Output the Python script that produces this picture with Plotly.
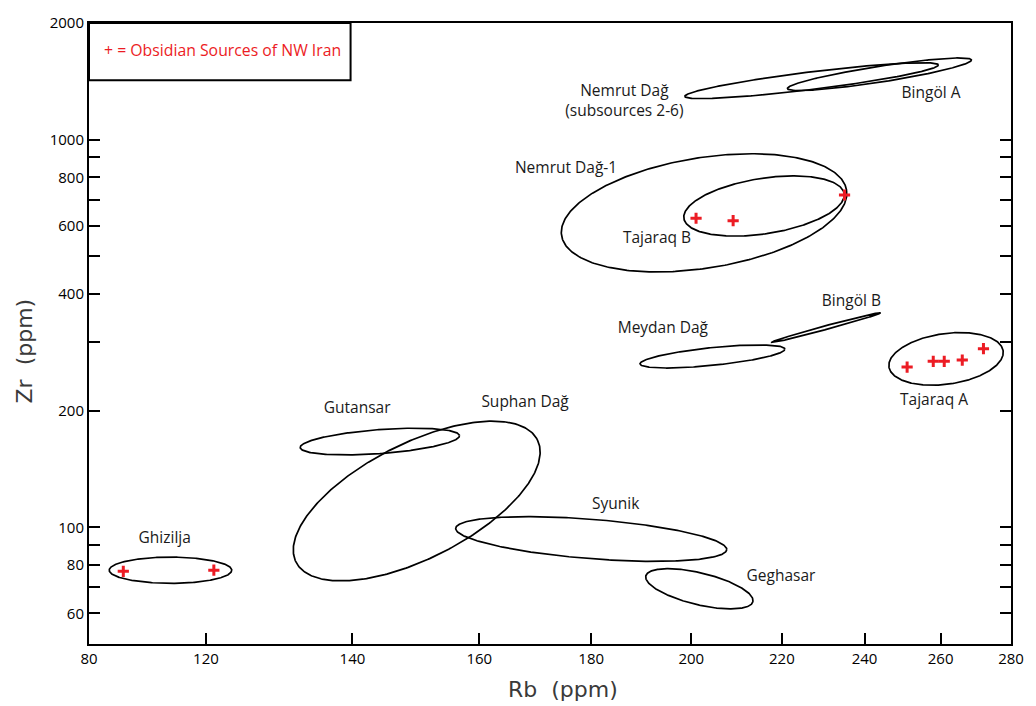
import numpy as np
import plotly.graph_objects as go

# ---------------- data ----------------
SOURCE_NAMES = ["Nemrut Dağ (subsources 2-6)", "Bingöl A", "Nemrut Dağ-1", "Tajaraq B",
                "Meydan Dağ", "Bingöl B", "Tajaraq A", "Gutansar", "Suphan Dağ",
                "Syunik", "Geghasar", "Ghizilja"]
# ellipse centre (Rb, Zr ppm)
CENTER_RB = [227.0, 243.8, 202.7, 215.9, 204.5, 230.5, 261.5, 144.1, 149.8, 180.0, 201.7, 115.6]
CENTER_ZR = [1420, 1475, 647.6, 674.3, 275.9, 327.6, 271.9, 166.4, 116.9, 93.3, 69.4, 77.5]
# end point of the long axis
MAJOR_RB = [259.4, 268.6, 235.5, 234.9, 220.7, 244.1, 277.7, 156.7, 170.1, 207.6, 213.4, 123.3]
MAJOR_ZR = [1559, 1606, 740.9, 725.7, 288.4, 357.7, 285.0, 172.5, 168.0, 87.6, 64.3, 77.5]
# end point of the short axis
MINOR_RB = [227.2, 244.1, 204.5, 216.8, 204.7, 230.6, 262.4, 144.3, 153.9, 179.8, 200.9, 115.6]
MINOR_ZR = [1348, 1408, 468.3, 572.8, 261.8, 324.0, 234.2, 155.0, 86.1, 83.0, 63.3, 71.7]

# obsidian samples of NW Iran (red crosses)
SAMPLE_RB = [201, 209, 235, 251, 258, 261, 266, 272, 110, 121]
SAMPLE_ZR = [627, 618, 720, 259, 268, 268, 270, 289, 77, 77.5]

# ellipse labels
LABEL_TEXT = ["Nemrut Dağ<br>(subsources 2-6)", "Bingöl A", "Nemrut Dağ-1", "Tajaraq B",
              "Bingöl B", "Meydan Dağ", "Tajaraq A", "Gutansar", "Suphan Dağ",
              "Syunik", "Geghasar", "Ghizilja"]
LABEL_RB = [186.4, 257.4, 175.3, 192.9, 236.7, 194.1, 258.2, 140.7, 167.9, 184.7, 219.8, 114.9]
LABEL_ZR = [1251, 1311, 842, 554, 381, 324, 212, 202, 209, 114, 74.6, 93.4]

X_MIN, X_MAX = 106.1, 280
Y_MIN, Y_MAX = 50, 2000
X_TICKS = [X_MIN, 120, 140, 160, 180, 200, 220, 240, 260, 280]
X_TICK_TEXT = ["80", "120", "140", "160", "180", "200", "220", "240", "260", "280"]
Y_TICKS = [60, 70, 80, 90, 100, 200, 300, 400, 500, 600, 700, 800, 900, 1000, 2000]
Y_TICK_TEXT = ["60", "", "80", "", "100", "200", "", "400", "", "600", "", "800", "", "1000", "2000"]

LEGEND_TEXT = "+ = Obsidian Sources of NW Iran"
RED = "#ec1c24"
FONT = "Open Sans, sans-serif"

fig = go.Figure()

t = np.linspace(0, 2 * np.pi, 361)
for i, name in enumerate(SOURCE_NAMES):
    cx, cy = np.log10(CENTER_RB[i]), np.log10(CENTER_ZR[i])
    ux, uy = np.log10(MAJOR_RB[i]) - cx, np.log10(MAJOR_ZR[i]) - cy
    vx, vy = np.log10(MINOR_RB[i]) - cx, np.log10(MINOR_ZR[i]) - cy
    lx = cx + ux * np.cos(t) + vx * np.sin(t)
    ly = cy + uy * np.cos(t) + vy * np.sin(t)
    fig.add_trace(go.Scatter(x=10 ** lx, y=10 ** ly, mode="lines", name=name,
                             line=dict(color="black", width=1.7), hoverinfo="name"))

fig.add_trace(go.Scatter(x=SAMPLE_RB, y=SAMPLE_ZR, mode="markers", name="Obsidian Sources of NW Iran",
                         marker=dict(symbol="cross-thin", size=8,
                                     line=dict(color=RED, width=3), color=RED)))

fig.add_trace(go.Scatter(x=LABEL_RB, y=LABEL_ZR, mode="text", text=LABEL_TEXT,
                         textfont=dict(family=FONT, size=15.5, color="#1a1a1a"),
                         hoverinfo="skip"))

axis_common = dict(type="log", showgrid=False, zeroline=False, showline=True,
                   linecolor="black", linewidth=2, ticks="inside", ticklen=11,
                   tickwidth=2, tickcolor="black", ticklabeloverflow="allow",
                   tickfont=dict(family=FONT, size=15, color="black"))

fig.update_xaxes(range=[np.log10(X_MIN), np.log10(X_MAX)], tickvals=X_TICKS,
                 ticktext=X_TICK_TEXT, mirror=True, **axis_common)
fig.update_yaxes(range=[np.log10(Y_MIN), np.log10(Y_MAX)], tickvals=Y_TICKS,
                 ticktext=Y_TICK_TEXT, mirror="ticks", **axis_common)

fig.add_shape(type="rect", xref="paper", yref="paper", x0=0, x1=0.2837, y0=0.9079, y1=1,
              line=dict(color="black", width=2), fillcolor="white", layer="above")
fig.add_annotation(xref="paper", yref="paper", x=0.0139, y=0.956, xanchor="left",
                   yanchor="middle", text=LEGEND_TEXT, showarrow=False,
                   font=dict(family=FONT, size=15.8, color=RED))

fig.add_annotation(xref="paper", yref="paper", x=0.514, y=-0.0737, text="Rb\u00a0\u00a0(ppm)",
                   showarrow=False, xanchor="center", yanchor="middle",
                   font=dict(family="DejaVu Sans, sans-serif", size=22, color="#3a3a3a"))
fig.add_annotation(xref="paper", yref="paper", x=-0.0696, y=0.4724, text="Zr\u00a0\u00a0(ppm)",
                   showarrow=False, xanchor="center", yanchor="middle", textangle=-90,
                   font=dict(family="DejaVu Sans, sans-serif", size=22, color="#3a3a3a"))

fig.update_layout(width=1036, height=706, showlegend=False,
                  margin=dict(l=89, r=13, t=19.5, b=62),
                  plot_bgcolor="white", paper_bgcolor="white",
                  font=dict(family=FONT))

fig.write_html("out.html", config={"displayModeBar": False},
               post_script="document.body.style.margin='0px';"
                           "document.body.style.overflow='hidden';")
